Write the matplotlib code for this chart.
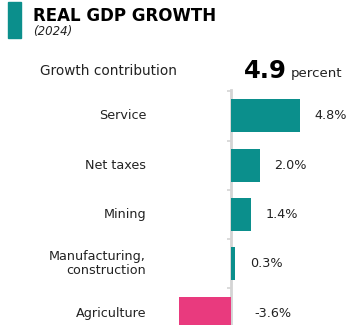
import matplotlib.pyplot as plt
from matplotlib.patches import Rectangle

plt.rcParams['font.family'] = ['DejaVu Sans']

sectors = ['Service', 'Net taxes', 'Mining', 'Manufacturing,\nconstruction', 'Agriculture']
contrib = [4.8, 2.0, 1.4, 0.3, -3.6]
total = 4.9
year = '2024'

teal = '#0b8f8c'
pink = '#e93a7e'
W, H = 359, 325

fig = plt.figure(figsize=(W / 100, H / 100), dpi=100)
fig.patch.set_facecolor('white')

# axes cover full width; zero line sits at x=231px, 14.4px per point
px = 14.4
x0 = 231
ax = fig.add_axes([0, 0, 1, (325 - 90) / H])
ax.set_xlim(-x0 / px, (W - x0) / px)
step = 49.3
ax.set_ylim(4 + (325 - 313) / step, -(116 - 90) / step)

colors = [teal if v >= 0 else pink for v in contrib]
ax.barh(range(len(sectors)), contrib, height=0.67, color=colors, zorder=2)

for s in ['top', 'right', 'bottom']:
    ax.spines[s].set_visible(False)
ax.spines['left'].set_position(('data', 0))
ax.spines['left'].set_color('#d4d4d4')
ax.spines['left'].set_linewidth(2)
ax.spines['left'].set_zorder(1)
ax.set_xticks([])
ax.set_yticks([-0.5, 0.5, 1.5, 2.5, 3.5])
ax.set_yticklabels([])
ax.tick_params(axis='y', length=3, width=1.2, color='#d4d4d4', direction='out')

label_x = (146 - x0) / px
for i, (name, v) in enumerate(zip(sectors, contrib)):
    ax.text(label_x, i, name, ha='right', va='center', fontsize=9.2,
            color='#222222', linespacing=1.1)
    if v >= 0:
        ax.annotate(f'{v:.1f}%', (v, i), xytext=(10.5, 0), textcoords='offset points',
                    ha='left', va='center', fontsize=9.2, color='#222222')
    else:
        ax.annotate(f'{v:.1f}%', (0, i), xytext=(17, 0), textcoords='offset points',
                    ha='left', va='center', fontsize=9.2, color='#222222')

# header
fig.add_artist(Rectangle((8 / W, 1 - 38 / H), 13 / W, 36 / H, color=teal,
                         transform=fig.transFigure))
fig.text(33 / W, 1 - 16 / H, 'REAL GDP GROWTH', fontsize=12, fontweight='bold',
         va='center', ha='left', color='#000000')
fig.text(33 / W, 1 - 31 / H, f'({year})', fontsize=8.5, style='italic',
         va='center', ha='left', color='#222222')
fig.text(40 / W, 1 - 71 / H, 'Growth contribution', fontsize=9.8,
         va='center', ha='left', color='#222222')
fig.text(244 / W, 1 - 71 / H, f'{total}', fontsize=17.5, fontweight='bold',
         va='center', ha='left', color='#000000')
fig.text(291 / W, 1 - 73 / H, 'percent', fontsize=9.6,
         va='center', ha='left', color='#222222')

fig.savefig('out.png', dpi=100)
